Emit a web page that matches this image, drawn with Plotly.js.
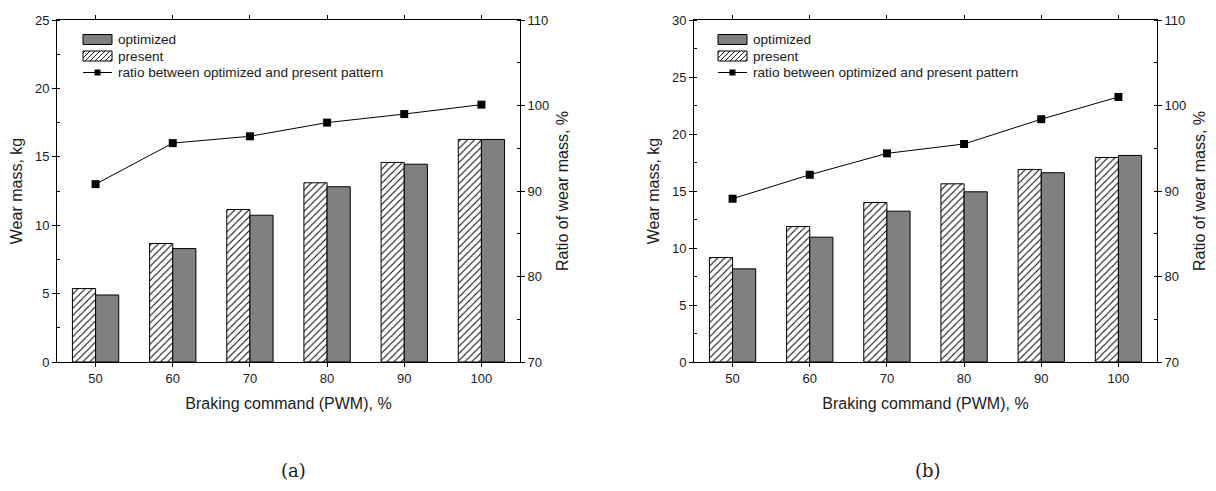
<!DOCTYPE html>
<html>
<head>
<meta charset="utf-8">
<script src="https://cdn.plot.ly/plotly-3.0.1.min.js"></script>
<style>
html,body{margin:0;padding:0;background:#fff;}
#chart{width:1216px;height:491px;}
</style>
</head>
<body>
<div id="chart"></div>
<script>
// ---- data ----
const categories = ['50', '60', '70', '80', '90', '100'];
const presentA   = [5.37, 8.66, 11.15, 13.10, 14.59, 16.27];
const optimizedA = [4.90, 8.29, 10.73, 12.81, 14.46, 16.27];
const ratioA     = [90.8, 95.6, 96.4, 98.0, 99.0, 100.1];
const presentB   = [9.16, 11.88, 13.99, 15.63, 16.89, 17.94];
const optimizedB = [8.17, 10.95, 13.23, 14.93, 16.60, 18.12];
const ratioB     = [89.1, 91.9, 94.4, 95.5, 98.4, 101.0];
const legendLabels = ['optimized', 'present', 'ratio between optimized and present pattern'];
const panelLabels = ['(a)', '(b)'];
const xTitle = 'Braking command (PWM), %';
const yTitle = 'Wear mass, kg';
const y2Title = 'Ratio of wear mass, %';

// ---- geometry helpers ----
const W = 1216, H = 491;
const px = v => v / W;
const py = v => 1 - v / H;
const FONT = '"Liberation Sans", Arial, Helvetica, sans-serif';
const TXT = '#1a1a1a';

function barPresent(x, y, xa, ya) {
  return {type: 'bar', x: x, y: y, xaxis: xa, yaxis: ya, name: 'present', showlegend: false,
    marker: {color: 'white', line: {color: 'black', width: 1},
      pattern: {shape: '/', fgcolor: 'black', bgcolor: 'white', size: 5, solidity: 0.2}}};
}
function barOpt(x, y, xa, ya) {
  return {type: 'bar', x: x, y: y, xaxis: xa, yaxis: ya, name: 'optimized', showlegend: false,
    marker: {color: '#808080', line: {color: 'black', width: 1}}};
}
function ratioLine(x, y, xa, ya) {
  return {type: 'scatter', mode: 'lines+markers', x: x, y: y, xaxis: xa, yaxis: ya,
    name: 'ratio', showlegend: false, line: {color: 'black', width: 1},
    marker: {symbol: 'square', size: 8, color: 'black'}};
}

const data = [
  barPresent(categories, presentA, 'x', 'y'),
  barOpt(categories, optimizedA, 'x', 'y'),
  ratioLine(categories, ratioA, 'x', 'y2'),
  barPresent(categories, presentB, 'x2', 'y3'),
  barOpt(categories, optimizedB, 'x2', 'y3'),
  ratioLine(categories, ratioB, 'x2', 'y4')
];

const ydom = [py(362), py(20)];
const tickfont = {family: FONT, size: 13, color: TXT};
const titlefont = {family: FONT, size: 16, color: TXT};

function xAx(dom, anchor) {
  return {domain: dom, anchor: anchor, type: 'category', range: [-0.5, 5.5], showline: true, linecolor: 'black', linewidth: 1,
    ticks: 'outside', ticklen: 4, tickcolor: 'black', mirror: 'ticks', showgrid: false, zeroline: false,
    tickfont: tickfont, title: {text: xTitle, font: titlefont, standoff: 13}, fixedrange: true};
}
function yLeft(anchor, max) {
  return {domain: ydom, anchor: anchor, range: [0, max], dtick: 5, showline: true, linecolor: 'black', linewidth: 1,
    ticks: 'outside', ticklen: 4, tickcolor: 'black', showgrid: false, zeroline: false,
    minor: {dtick: 2.5, ticks: 'inside', ticklen: 3, tickcolor: 'black', showgrid: false},
    tickfont: tickfont, title: {text: yTitle, font: titlefont, standoff: 8}, fixedrange: true};
}
function yRight(anchor, over) {
  return {domain: ydom, anchor: anchor, overlaying: over, side: 'right', range: [70, 110], dtick: 10,
    showline: true, linecolor: 'black', linewidth: 1,
    ticks: 'outside', ticklen: 4, tickcolor: 'black', showgrid: false, zeroline: false,
    minor: {dtick: 5, ticks: 'inside', ticklen: 3, tickcolor: 'black', showgrid: false},
    tickfont: tickfont, title: {text: y2Title, font: titlefont, standoff: 8}, fixedrange: true};
}

// ---- custom legend (decoration) ----
const shapes = [];
const annotations = [];
function addLegend(left) {
  const sx0 = left, sx1 = left + 29;
  const rows = [39.5, 56, 72.5];
  shapes.push({type: 'rect', xref: 'paper', yref: 'paper', x0: px(sx0), x1: px(sx1), y0: py(rows[0] + 5), y1: py(rows[0] - 5),
    fillcolor: '#808080', line: {color: 'black', width: 1}});
  const ry0 = rows[1] - 5, ry1 = rows[1] + 5;
  shapes.push({type: 'rect', xref: 'paper', yref: 'paper', x0: px(sx0), x1: px(sx1), y0: py(ry1), y1: py(ry0),
    fillcolor: 'white', line: {color: 'black', width: 1}});
  const s = 5;
  for (let c = sx0 + ry0 + 2; c < sx1 + ry1; c += s) {
    const xa = Math.max(sx0, c - ry1), xb = Math.min(sx1, c - ry0);
    if (xb - xa > 0.5) {
      shapes.push({type: 'line', xref: 'paper', yref: 'paper', x0: px(xa), y0: py(c - xa), x1: px(xb), y1: py(c - xb),
        line: {color: 'black', width: 0.9}});
    }
  }
  shapes.push({type: 'line', xref: 'paper', yref: 'paper', x0: px(sx0), x1: px(sx1), y0: py(rows[2]), y1: py(rows[2]),
    line: {color: 'black', width: 1}});
  shapes.push({type: 'rect', xref: 'paper', yref: 'paper', x0: px(sx0 + 11.5), x1: px(sx0 + 17.5), y0: py(rows[2] + 3), y1: py(rows[2] - 3),
    fillcolor: 'black', line: {color: 'black', width: 0}});
  legendLabels.forEach((lab, i) => {
    annotations.push({xref: 'paper', yref: 'paper', x: px(sx1 + 4), y: py(rows[i]), xanchor: 'left', yanchor: 'middle',
      text: lab, showarrow: false, font: {family: FONT, size: 13.6, color: TXT}});
  });
}
addLegend(83);
addLegend(718);

annotations.push({xref: 'paper', yref: 'paper', x: px(293), y: py(470), xanchor: 'center', yanchor: 'middle',
  text: panelLabels[0], showarrow: false, font: {family: '"DejaVu Serif", "Liberation Serif", serif', size: 18, color: TXT}});
annotations.push({xref: 'paper', yref: 'paper', x: px(928), y: py(470), xanchor: 'center', yanchor: 'middle',
  text: panelLabels[1], showarrow: false, font: {family: '"DejaVu Serif", "Liberation Serif", serif', size: 18, color: TXT}});

const layout = {
  width: W, height: H,
  margin: {l: 0, r: 0, t: 0, b: 0},
  paper_bgcolor: 'white', plot_bgcolor: 'white',
  showlegend: false,
  barmode: 'group', bargap: 0.4, bargroupgap: 0,
  xaxis: xAx([px(57), px(520)], 'y'),
  yaxis: yLeft('x', 25),
  yaxis2: yRight('x', 'y'),
  xaxis2: xAx([px(694), px(1157)], 'y3'),
  yaxis3: yLeft('x2', 30),
  yaxis4: yRight('x2', 'y3'),
  shapes: shapes,
  annotations: annotations
};

Plotly.newPlot('chart', data, layout, {displayModeBar: false, staticPlot: true});
</script>
</body>
</html>
